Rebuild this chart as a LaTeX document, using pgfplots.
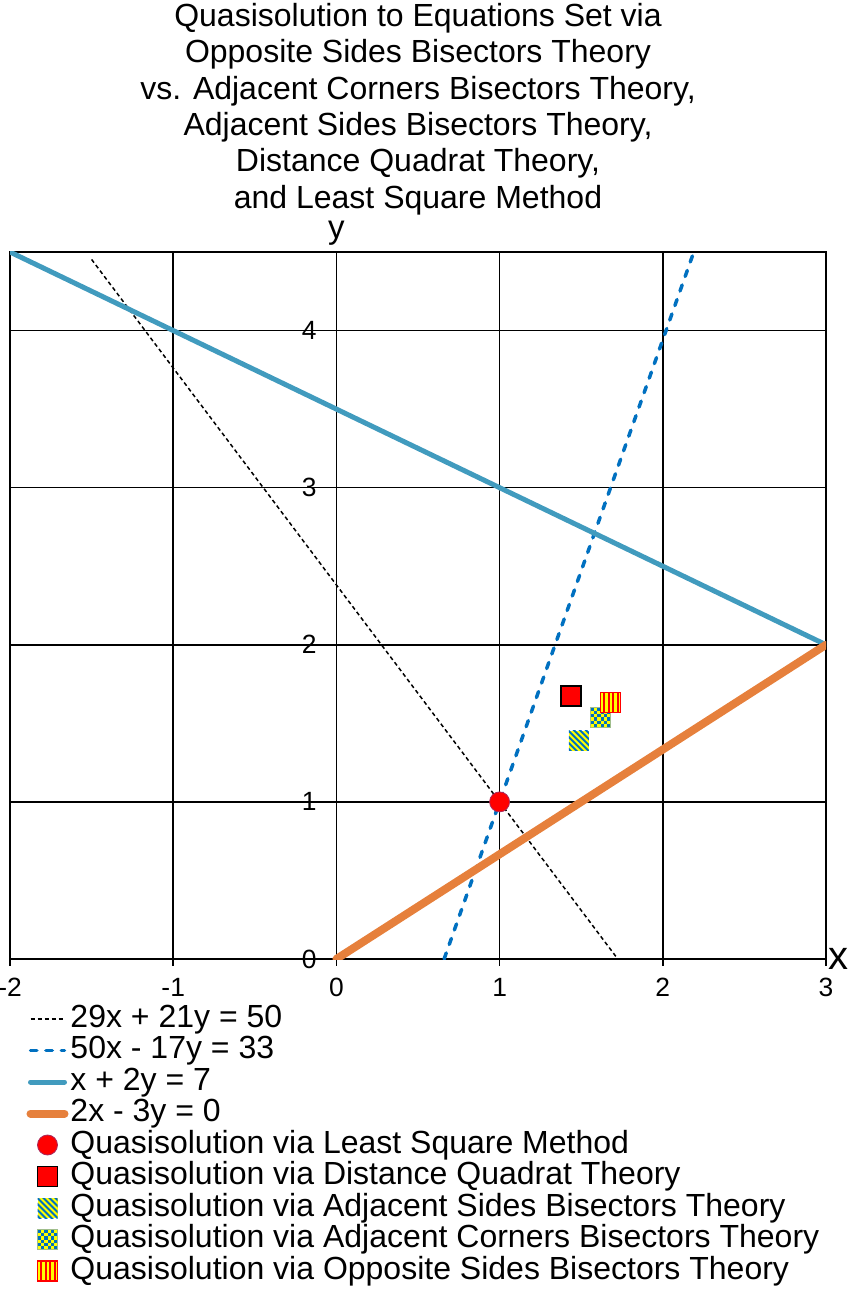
\documentclass[border=0pt]{standalone}
\usepackage{fontspec}
\setmainfont{Liberation Sans}
\usepackage{pgfplots}
\pgfplotsset{compat=1.18}
\definecolor{dblue}{RGB}{0,112,192}
\definecolor{teal2}{RGB}{65,155,190}
\definecolor{orng}{RGB}{230,128,60}
\definecolor{yel}{RGB}{255,255,0}
\definecolor{red2}{RGB}{255,0,0}
\definecolor{grgreen}{RGB}{160,190,140}
\definecolor{circedge}{RGB}{170,40,90}

\pgfdeclareplotmark{diagstripes}{%
  \pgfpathrectangle{\pgfpoint{-5pt}{-5pt}}{\pgfpoint{10pt}{10pt}}%
  \pgfsetfillcolor{yel}\pgfusepath{fill}%
  \begin{pgfscope}%
    \pgfpathrectangle{\pgfpoint{-5pt}{-5pt}}{\pgfpoint{10pt}{10pt}}\pgfusepath{clip}%
    \pgfsetstrokecolor{dblue}\pgfsetlinewidth{1pt}%
    \foreach \k in {-5,...,5}{%
      \pgfpathmoveto{\pgfpoint{\k*3pt-6pt}{6pt}}%
      \pgfpathlineto{\pgfpoint{\k*3pt+6pt}{-6pt}}%
      \pgfusepath{stroke}}%
  \end{pgfscope}%
}
\pgfdeclareplotmark{checker}{%
  \pgfpathrectangle{\pgfpoint{-5pt}{-5pt}}{\pgfpoint{10pt}{10pt}}%
  \pgfsetfillcolor{yel}\pgfusepath{fill}%
  \pgfsetfillcolor{dblue}%
  \foreach \i in {0,...,5}{\foreach \j in {0,...,5}{%
    \pgfmathtruncatemacro\cc{mod(\i+\j,2)}%
    \ifnum\cc=1
      \pgfpathrectangle{\pgfpoint{-5pt+\i*1.6667pt}{-5pt+\j*1.6667pt}}{\pgfpoint{1.6667pt}{1.6667pt}}%
      \pgfusepath{fill}%
    \fi}}%
  \pgfpathrectangle{\pgfpoint{-5pt}{-5pt}}{\pgfpoint{10pt}{10pt}}%
  \pgfsetstrokecolor{grgreen}\pgfsetlinewidth{0.5pt}\pgfusepath{stroke}%
}
\pgfdeclareplotmark{vstripes}{%
  \pgfpathrectangle{\pgfpoint{-5pt}{-5pt}}{\pgfpoint{10pt}{10pt}}%
  \pgfsetfillcolor{yel}\pgfusepath{fill}%
  \pgfsetstrokecolor{red2}\pgfsetlinewidth{1pt}%
  \foreach \k in {0,...,3}{%
    \pgfpathmoveto{\pgfpoint{-3.4pt+\k*2.4pt}{-5pt}}%
    \pgfpathlineto{\pgfpoint{-3.4pt+\k*2.4pt}{5pt}}%
    \pgfusepath{stroke}}%
  \pgfpathrectangle{\pgfpoint{-5pt}{-5pt}}{\pgfpoint{10pt}{10pt}}%
  \pgfsetlinewidth{0.6pt}\pgfusepath{stroke}%
}

\begin{document}
\begin{tikzpicture}
\path[use as bounding box] (0,0) rectangle (425.5pt,644.5pt);
\begin{axis}[
  at={(5pt,165pt)}, anchor=south west,
  scale only axis, width=408pt, height=353.5pt,
  xmin=-2, xmax=3, ymin=0, ymax=4.5,
  xtick={-2,-1,0,1,2,3}, ytick={0,1,2,3,4},
  grid=major, major grid style={black, line width=0.8pt},
  axis line style={black, line width=0.8pt},
  tick align=outside, major tick length=3.5pt,
  xtick pos=left, ytick pos=left,
  ytick style={draw=none},
  xtick style={black, line width=0.8pt},
  /pgf/number format/assume math mode=true,
  ticklabel style={font=\fontsize{13.2}{15}\selectfont},
  xticklabel style={anchor=north, inner sep=0pt, yshift=-6pt},
  yticklabel style={anchor=east, inner sep=0pt, xshift=157pt},
  title={Quasisolution to Equations Set via\\Opposite Sides Bisectors Theory\\vs. Adjacent Corners Bisectors Theory,\\Adjacent Sides Bisectors Theory,\\Distance Quadrat Theory,\\and Least Square Method},
  every axis title/.style={at={(0.5,1)}, anchor=south, yshift=18.3pt, inner sep=0pt, align=center, font=\fontsize{16}{18.2}\selectfont},
  xlabel={x}, ylabel={y},
  every axis x label/.style={at={(1,0)}, anchor=west, inner sep=0pt, xshift=1pt, font=\fontsize{20}{22}\selectfont},
  every axis y label/.style={at={(0.4,1)}, anchor=base, inner sep=0pt, yshift=6.5pt, font=\fontsize{16.5}{19}\selectfont},
  legend style={at={(0,0)}, anchor=north west, xshift=8.25pt, yshift=-22.5pt, draw=none, fill=none, inner sep=0pt, outer sep=0pt, font=\fontsize{16}{18}\selectfont, row sep=0.75pt, column sep=0.5pt, nodes={inner sep=0.5pt, text height=11pt, text depth=3pt}},
  legend cell align=left,
  legend image code/.code={\draw[mark repeat=2, mark phase=2, #1] plot coordinates {(0pt,0pt) (8.5pt,0pt) (17pt,0pt)};},
]
\addplot[black, line width=0.75pt, dash pattern=on 2pt off 1.5pt] coordinates {(-1.5,4.4524) (1.7241,0)};
\addlegendentry{29x + 21y = 50}
\addplot[dblue, line width=1.75pt, dash pattern=on 3.2pt off 4.5pt, line cap=round] coordinates {(0.66,0) (2.19,4.5)};
\addlegendentry{50x - 17y = 33}
\addplot[teal2, line width=2.5pt, line cap=round] coordinates {(-2,4.5) (3,2)};
\addlegendentry{x + 2y = 7}
\addplot[orng, line width=4pt, line cap=round] coordinates {(0,0) (3,2)};
\addlegendentry{2x - 3y = 0}
\addplot[only marks, mark=*, mark size=5pt, mark options={fill=red2, draw=circedge, line width=0.4pt}] coordinates {(1,1)};
\addlegendentry{Quasisolution via Least Square Method}
\addplot[only marks, mark=square*, mark size=5pt, mark options={fill=red2, draw=black, line width=0.75pt}] coordinates {(1.4375,1.674)};
\addlegendentry{Quasisolution via Distance Quadrat Theory}
\addplot[only marks, mark=diagstripes] coordinates {(1.485,1.388)};
\addlegendentry{Quasisolution via Adjacent Sides Bisectors Theory}
\addplot[only marks, mark=checker] coordinates {(1.62,1.539)};
\addlegendentry{Quasisolution via Adjacent Corners Bisectors Theory}
\addplot[only marks, mark=vstripes] coordinates {(1.68,1.632)};
\addlegendentry{Quasisolution via Opposite Sides Bisectors Theory}
\end{axis}
\end{tikzpicture}
\end{document}
